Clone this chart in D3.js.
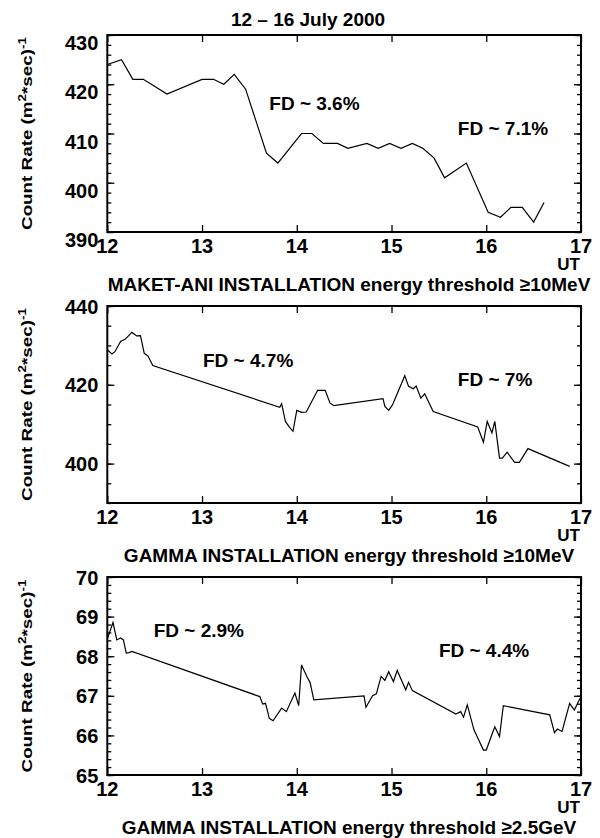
<!DOCTYPE html>
<html><head><meta charset="utf-8">
<script src="https://cdn.jsdelivr.net/npm/d3@7"></script>
<style>body{margin:0;background:#fff}svg{display:block}text{font-family:Arial,"Liberation Sans",sans-serif;font-weight:bold;fill:#000}</style>
</head><body>
<script>
// ---- data ----
const title = "12 \u2013 16 July 2000";
const xTicks = [12, 13, 14, 15, 16, 17];

const t1 = [12.0,12.15,12.27,12.38,12.63,13.0,13.12,13.23,13.34,13.46,13.68,13.8,14.05,14.16,14.28,14.43,14.54,14.74,14.86,14.98,15.1,15.22,15.33,15.45,15.56,15.79,16.02,16.15,16.26,16.38,16.5,16.61];
const v1 = [424,425,421,421,418,421,421,420,422,419,406,404,410,410,408,408,407,408,407,408,407,408,407,405,401,404,394,393,395,395,392,396];
const yTicks1 = [390,400,410,420,430];

const t2 = [12.0,12.05,12.08,12.14,12.19,12.26,12.31,12.35,12.39,12.43,12.48,13.82,13.84,13.88,13.92,13.96,14.0,14.05,14.1,14.22,14.3,14.35,14.39,14.91,14.93,14.97,15.01,15.14,15.18,15.23,15.26,15.31,15.35,15.44,15.91,15.97,16.01,16.06,16.09,16.14,16.17,16.22,16.3,16.35,16.44,16.88];
const v2 = [428.9,427.8,428.4,431.0,431.6,433.3,432.4,432.5,428.0,427.3,424.9,414.3,415.2,410.7,409.3,408.2,413.5,413.0,413.1,418.6,418.6,415.4,414.7,416.5,414.5,413.5,414.9,422.3,419.6,419.0,419.7,416.6,417.7,413.2,409.3,405.4,410.7,407.8,410.7,401.4,401.4,402.9,400.3,400.3,403.8,399.3];
const yTicks2 = [400,420,440];

const t3 = [12.0,12.06,12.1,12.14,12.17,12.2,12.23,12.26,13.61,13.64,13.67,13.71,13.75,13.84,13.89,13.98,14.02,14.05,14.11,14.14,14.18,14.71,14.73,14.8,14.84,14.89,14.93,14.97,15.02,15.06,15.15,15.18,15.22,15.68,15.73,15.76,15.8,15.87,15.97,16.0,16.09,16.14,16.18,16.67,16.72,16.75,16.8,16.88,16.93,16.99];
const v3 = [68.43,68.85,68.41,68.46,68.41,68.08,68.09,68.12,66.98,66.79,66.81,66.43,66.37,66.69,66.6,67.07,66.75,67.78,67.47,67.34,66.9,67.0,66.71,67.0,67.05,67.49,67.39,67.61,67.36,67.64,67.15,67.34,67.13,66.54,66.6,66.46,66.77,66.14,65.63,65.63,66.22,65.97,66.75,66.52,66.07,66.16,66.1,66.81,66.64,66.94];
const yTicks3 = [65,66,67,68,69,70];

const subtitles = ["MAKET-ANI INSTALLATION energy threshold \u226510MeV",
                   "GAMMA INSTALLATION energy threshold \u226510MeV",
                   "GAMMA INSTALLATION energy threshold \u22652.5GeV"];
const fdLabels1 = ["FD ~ 3.6%", "FD ~ 7.1%"], fdT1 = [13.71, 15.70], fdV1 = [414.8, 409.7];
const fdLabels2 = ["FD ~ 4.7%", "FD ~ 7%"],   fdT2 = [13.01, 15.70], fdV2 = [424.6, 419.7];
const fdLabels3 = ["FD ~ 2.9%", "FD ~ 4.4%"], fdT3 = [12.49, 15.50], fdV3 = [68.49, 67.98];

// ---- layout ----
const W = 600, H = 838;
const L = 107.3, R = 581;
const panels = [
  {t:t1, v:v1, dom:[390,430], top:35,  bot:232,   ticks:yTicks1, minor:2,   labAlign:"hang", fdL:fdLabels1, fdT:fdT1, fdV:fdV1},
  {t:t2, v:v2, dom:[390,440], top:306, bot:503,   ticks:yTicks2, minor:5,   labAlign:"mid",  fdL:fdLabels2, fdT:fdT2, fdV:fdV2},
  {t:t3, v:v3, dom:[65,70],   top:577, bot:775,   ticks:yTicks3, minor:0.2, labAlign:"mid",  fdL:fdLabels3, fdT:fdT3, fdV:fdV3}
];

const svg = d3.select("body").append("svg").attr("width", W).attr("height", H);

svg.append("text").attr("x", 308).attr("y", 26).attr("text-anchor","middle")
  .style("font-size","19px").text(title);

const x = d3.scaleLinear().domain([12,17]).range([L,R]);

panels.forEach((p, i) => {
  const y = d3.scaleLinear().domain(p.dom).range([p.bot, p.top]);
  const g = svg.append("g");
  // minor ticks
  const minors = d3.range(p.dom[0], p.dom[1] + 1e-9, p.minor).map(d => +d.toFixed(3));
  g.append("g").attr("transform",`translate(${L},0)`)
    .call(d3.axisRight(y).tickValues(minors).tickSize(4).tickFormat(""))
    .call(a => a.select(".domain").remove());
  g.append("g").attr("transform",`translate(${R},0)`)
    .call(d3.axisLeft(y).tickValues(minors).tickSize(4).tickFormat(""))
    .call(a => a.select(".domain").remove());
  // major y ticks
  g.append("g").attr("transform",`translate(${L},0)`)
    .call(d3.axisRight(y).tickValues(p.ticks).tickSize(7).tickFormat(""))
    .call(a => a.select(".domain").remove());
  g.append("g").attr("transform",`translate(${R},0)`)
    .call(d3.axisLeft(y).tickValues(p.ticks).tickSize(7).tickFormat(""))
    .call(a => a.select(".domain").remove());
  // x ticks top & bottom
  g.append("g").attr("transform",`translate(0,${p.bot})`)
    .call(d3.axisTop(x).tickValues(xTicks).tickSize(7).tickFormat(""))
    .call(a => a.select(".domain").remove());
  g.append("g").attr("transform",`translate(0,${p.top})`)
    .call(d3.axisBottom(x).tickValues(xTicks).tickSize(7).tickFormat(""))
    .call(a => a.select(".domain").remove());
  g.selectAll(".tick line").attr("stroke","#000").attr("stroke-width",1.3);

  // y tick labels
  g.selectAll(".ylab").data(p.ticks).enter().append("text")
    .attr("x", L - 9).attr("y", d => y(d) + (p.labAlign === "hang" ? 15 : 7.5))
    .attr("text-anchor","end").style("font-size","20px").text(d => d);
  // x tick labels
  g.selectAll(".xlab").data(xTicks).enter().append("text")
    .attr("x", d => x(d)).attr("y", p.bot + 21)
    .attr("text-anchor","middle").style("font-size","20px").text(d => d);
  // UT
  g.append("text").attr("x", R - 1).attr("y", p.bot + 38).attr("text-anchor","end")
    .style("font-size","17px").text("UT");
  // subtitle
  g.append("text").attr("x", 349).attr("y", p.bot + 59).attr("text-anchor","middle")
    .style("font-size","19px").text(subtitles[i]);

  // frame
  g.append("rect").attr("x", L).attr("y", p.top).attr("width", R - L).attr("height", p.bot - p.top)
    .attr("fill","none").attr("stroke","#000").attr("stroke-width",2);

  // data line
  const pts = p.t.map((t, k) => [t, p.v[k]]);
  g.append("path").datum(pts)
    .attr("fill","none").attr("stroke","#000").attr("stroke-width",1.2).attr("stroke-linejoin","miter")
    .attr("d", d3.line().x(d => x(d[0])).y(d => y(d[1])));

  // FD annotations
  p.fdL.forEach((lab, k) => {
    g.append("text").attr("x", x(p.fdT[k])).attr("y", y(p.fdV[k]))
      .style("font-size","19px").text(lab);
  });

  // y axis title
  const cy = (p.top + p.bot) / 2;
  const yt = g.append("text").attr("text-anchor","middle").style("font-size","14px");
  yt.append("tspan").text("Count Rate (m");
  yt.append("tspan").attr("dy", -6).style("font-size","10px").text("2");
  yt.append("tspan").attr("dy", 6).text("*sec)");
  yt.append("tspan").attr("dy", -6).style("font-size","10px").text("-1");
  const len = yt.node().getComputedTextLength();
  const sx = 193 / len;
  yt.attr("transform", `translate(32,${cy}) rotate(-90) scale(${sx},1)`);
});
</script>
</body></html>
